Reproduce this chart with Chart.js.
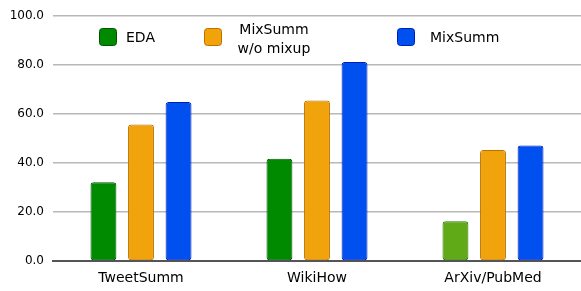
<!DOCTYPE html>
<html><head><meta charset="utf-8">
<script src="https://cdn.jsdelivr.net/npm/chart.js@4/dist/chart.umd.min.js"></script>
<style>html,body{margin:0;padding:0;background:#fff}#wrap{width:581px;height:291px}</style>
</head><body><div id="wrap"><canvas id="c" width="581" height="291"></canvas></div>
<script>
const categories = ["TweetSumm", "WikiHow", "ArXiv/PubMed"];
const seriesNames = ["EDA", "MixSumm w/o mixup", "MixSumm"];
const legendLabels = [["EDA"], ["MixSumm", "w/o mixup"], ["MixSumm"]];
const edaValues = [32.2, 41.8, 16.2];
const noMixupValues = [55.8, 65.6, 45.3];
const mixSummValues = [64.9, 81.3, 47.2];
const yTicks = [0, 20, 40, 60, 80, 100];

const FONT = "DejaVu Sans";
const fills = { eda: ["#008a00", "#008a00", "#60a917"], nm: "#f0a30a", ms: "#0050ef" };
const strokes = { eda: ["#005700", "#005700", "#2d7600"], nm: "#bd7000", ms: "#001dbc" };

const legendPlugin = {
  id: "customLegend",
  afterDraw(chart) {
    const ctx = chart.ctx;
    const items = [
      { box: 99, text: 126, align: "left" },
      { box: 204, text: 274, align: "center" },
      { box: 397, text: 430, align: "left" }
    ];
    chart.data.datasets.forEach((ds, i) => {
      const it = items[i];
      const bg = Array.isArray(ds.backgroundColor) ? ds.backgroundColor[0] : ds.backgroundColor;
      const bc = Array.isArray(ds.borderColor) ? ds.borderColor[0] : ds.borderColor;
      ctx.save();
      ctx.fillStyle = bg; ctx.strokeStyle = bc; ctx.lineWidth = 1;
      ctx.beginPath();
      ctx.roundRect(it.box + 0.5, 28.5, 17, 17, 3);
      ctx.fill(); ctx.stroke();
      ctx.fillStyle = "#000";
      ctx.font = "14px '" + FONT + "'";
      ctx.textAlign = it.align; ctx.textBaseline = "middle";
      const lines = legendLabels[i];
      if (lines.length === 1) ctx.fillText(lines[0], it.text, 38);
      else { ctx.fillText(lines[0], it.text, 30); ctx.fillText(lines[1], it.text, 49); }
      ctx.restore();
    });
  }
};

const common = { borderWidth: 1, borderRadius: 3, borderSkipped: false, categoryPercentage: 0.64, barPercentage: 0.69 };

new Chart(document.getElementById("c"), {
  type: "bar",
  data: {
    labels: categories,
    datasets: [
      Object.assign({ label: seriesNames[0], data: edaValues, backgroundColor: fills.eda, borderColor: strokes.eda }, common),
      Object.assign({ label: seriesNames[1], data: noMixupValues, backgroundColor: fills.nm, borderColor: strokes.nm }, common),
      Object.assign({ label: seriesNames[2], data: mixSummValues, backgroundColor: fills.ms, borderColor: strokes.ms }, common)
    ]
  },
  options: {
    responsive: false,
    animation: false,
    devicePixelRatio: 1,
    layout: { padding: { top: 13, right: 0, left: 0, bottom: 0 } },
    plugins: { legend: { display: false }, tooltip: { enabled: false } },
    scales: {
      x: {
        grid: { display: false, drawTicks: false },
        border: { display: true, color: "#555", width: 2 },
        ticks: { color: "#000", font: { family: FONT, size: 14 }, padding: 9 },
        afterFit(s) { s.height = 30; }
      },
      y: {
        min: 0, max: 100,
        afterBuildTicks(s) { s.ticks = yTicks.map(v => ({ value: v })); },
        grid: { color: "#b8b8b8", lineWidth: 1.5, drawTicks: false },
        border: { display: false },
        ticks: { color: "#000", font: { family: FONT, size: 12 }, padding: 9, callback: v => Number(v).toFixed(1) },
        afterFit(s) { s.width = 53; }
      }
    }
  },
  plugins: [legendPlugin]
});
</script>
</body></html>
